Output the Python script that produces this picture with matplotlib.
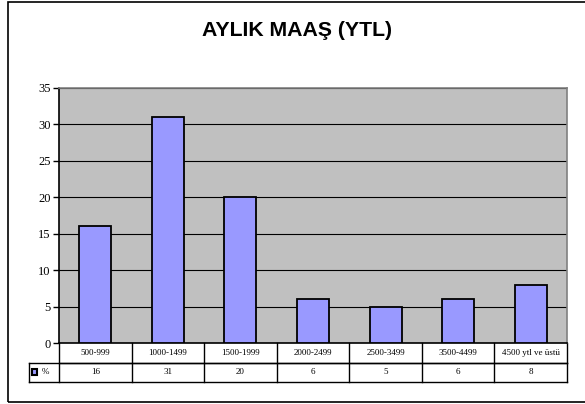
import matplotlib
matplotlib.use("Agg")
import matplotlib.pyplot as plt
from matplotlib.patches import Rectangle
from matplotlib.transforms import blended_transform_factory

# data
categories = ["500-999", "1000-1499", "1500-1999", "2000-2499",
              "2500-3499", "3500-4499", "4500 ytl ve üstü"]
percent = [16, 31, 20, 6, 5, 6, 8]
series_name = "%"
title = "AYLIK MAAŞ (YTL)"

fig = plt.figure(figsize=(5.85, 4.04), dpi=100)
W, H = 585, 404

# outer chart frame (right edge runs off the image)
fig.patches.append(Rectangle((8 / W, 1 - 402 / H), 600 / W, 400 / H,
                             transform=fig.transFigure, fill=False,
                             edgecolor="black", linewidth=1.2))

# plot area: x 59..567, y 88..343 (pixels)
ax = fig.add_axes([59 / W, 1 - 343 / H, 508 / W, 255 / H])
ax.set_facecolor("#C0C0C0")

x = list(range(len(categories)))
ax.bar(x, percent, width=0.44, color="#9999FF", edgecolor="black",
       linewidth=1.3, zorder=3)

ax.set_xlim(-0.5, len(categories) - 0.5)
ax.set_ylim(0, 35)
ax.set_yticks(range(0, 36, 5))
ax.yaxis.grid(True, color="black", linewidth=0.8, zorder=1)
ax.set_axisbelow(True)
ax.set_xticks([])
for lab in ax.get_yticklabels():
    lab.set_fontfamily("Liberation Serif")
    lab.set_fontsize(9)
ax.tick_params(axis="y", length=4, width=1, pad=2)

ax.spines["left"].set_linewidth(1.2)
ax.spines["bottom"].set_linewidth(1.2)
for side in ("top", "right"):
    ax.spines[side].set_color("#808080")
    ax.spines[side].set_linewidth(1.2)

fig.text(297 / W, 1 - 30 / H, title, ha="center", va="center",
         fontsize=15.3, fontweight="bold", family="Liberation Sans")

# data table under the chart
tr = blended_transform_factory(ax.transData, ax.transAxes)
rh = 19.5 / 255
x0, x1 = -0.5, len(categories) - 0.5
xleg = -0.5 - 30 / 72.5
lw = 1.0
kw = dict(transform=tr, color="black", linewidth=lw, clip_on=False)
ax.plot([x0, x1], [-rh, -rh], **kw)
ax.plot([xleg, x1], [-rh, -rh], **kw)
ax.plot([xleg, x1], [-2 * rh, -2 * rh], **kw)
ax.plot([xleg, xleg], [-rh, -2 * rh], **kw)
for i in range(len(categories) + 1):
    xb = i - 0.5
    ax.plot([xb, xb], [0, -2 * rh], **kw)
for i, (c, v) in enumerate(zip(categories, percent)):
    ax.text(i, -rh / 2, c, transform=tr, ha="center", va="center",
            fontsize=6.5, family="Liberation Serif")
    ax.text(i, -1.5 * rh, str(v), transform=tr, ha="center", va="center",
            fontsize=6.5, family="Liberation Serif")

# legend key in the table
ax.add_patch(Rectangle((xleg + 0.04, -1.5 * rh - 0.012), 0.07, 0.024,
                       transform=tr, facecolor="#9999FF",
                       edgecolor="black", linewidth=1.5, clip_on=False))
ax.text(xleg + 0.17, -1.5 * rh, series_name, transform=tr, ha="left",
        va="center", fontsize=6.5, family="Liberation Serif")

fig.savefig("out.png", dpi=100)
